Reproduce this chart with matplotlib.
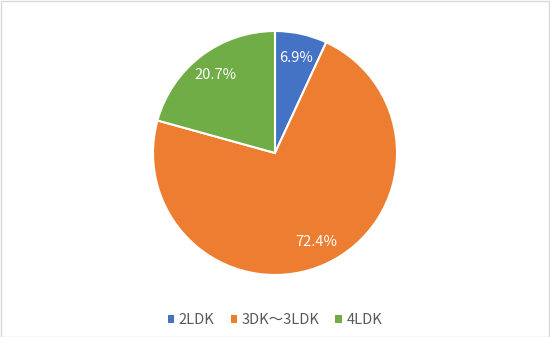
import matplotlib
matplotlib.use("Agg")
import matplotlib.pyplot as plt
from matplotlib.patches import Rectangle

plt.rcParams['font.family'] = ['Noto Sans CJK JP', 'DejaVu Sans']

labels = ["2LDK", "3DK～3LDK", "4LDK"]
shares = [6.9, 72.4, 20.7]
colors = ["#4472C4", "#ED7D31", "#70AD47"]

W, H = 550, 337
fig = plt.figure(figsize=(W / 100, H / 100), dpi=100)
fig.patches.append(Rectangle((0.5 / W, 0.5 / H), 1 - 1.5 / W, 1 - 1.5 / H,
                             transform=fig.transFigure, fill=False,
                             edgecolor="#D9D9D9", linewidth=1))

r = 122
cx, cy = 275, H - 153
ax = fig.add_axes([(cx - r) / W, (cy - r) / H, 2 * r / W, 2 * r / H])
wedges, _, autotexts = ax.pie(
    shares, colors=colors, startangle=90, counterclock=False,
    autopct="%.1f%%", pctdistance=0.8,
    wedgeprops=dict(edgecolor="white", linewidth=1.5),
    textprops=dict(color="white", fontsize=10.5))
ax.set_xlim(-1, 1)
ax.set_ylim(-1, 1)
ax.set_aspect("equal")

fig.legend(wedges, labels, loc="center", bbox_to_anchor=(0.5, 1 - 320 / H),
           ncol=3, frameon=False, fontsize=10.5, handlelength=0.45,
           handleheight=0.45, handletextpad=0.3, columnspacing=1.1,
           labelcolor="#595959")
for h in fig.legends[0].legend_handles:
    h.set_edgecolor("none")

fig.savefig("out.png", dpi=100)
